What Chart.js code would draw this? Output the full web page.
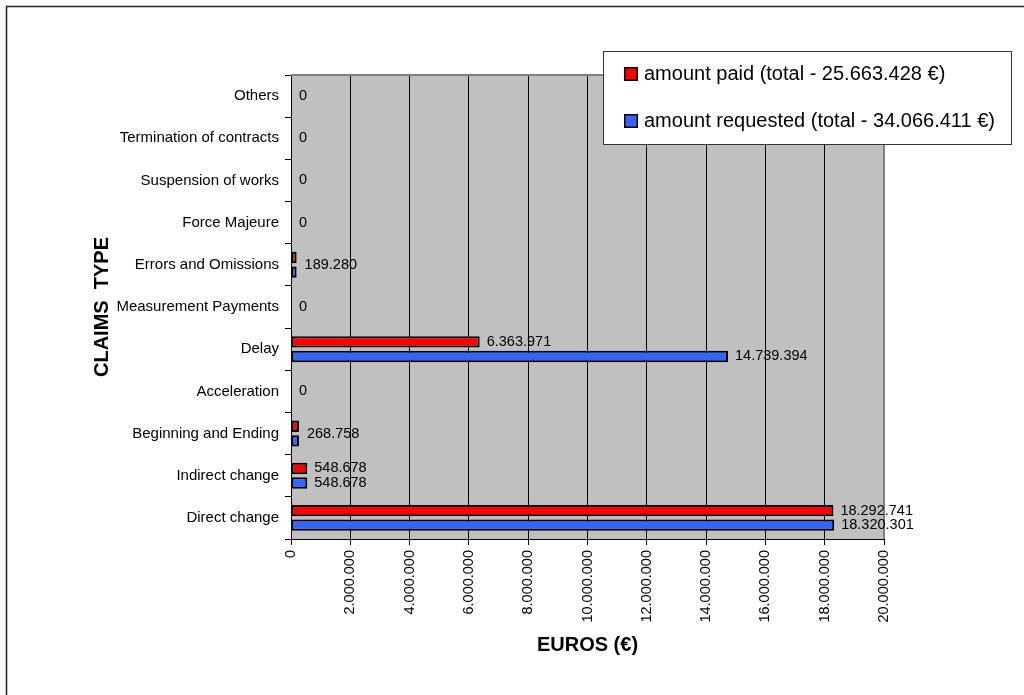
<!DOCTYPE html>
<html lang="en">
<head>
<meta charset="UTF-8">
<title>Claims by type</title>
<style>
  html, body { margin: 0; padding: 0; background: #fff; }
  #wrap { width: 1024px; height: 695px; }
</style>
</head>
<body>
<div id="wrap"><canvas id="claimsChart" width="1024" height="695"></canvas></div>
<script src="https://cdn.jsdelivr.net/npm/chart.js"></script>
<script>
// claim types, listed top to bottom
const categories = [
  'Others', 'Termination of contracts', 'Suspension of works', 'Force Majeure',
  'Errors and Omissions', 'Measurement Payments', 'Delay', 'Acceleration',
  'Beginning and Ending', 'Indirect change', 'Direct change'
];
const amountPaid      = [0, 0, 0, 0, 189280, 0, 6363971, 0, 268758, 548678, 18292741];
const amountRequested = [0, 0, 0, 0, 189280, 0, 14739394, 0, 268758, 548678, 18320301];
// one value label per category instead of one per bar
const sharedLabel = [true, true, true, true, true, true, false, true, true, false, false];

const FONT = '"Liberation Sans", Arial, sans-serif';
const RED = '#ff0000';
const BLUE = '#3366ff';

function fmt(n) {
  return String(Math.round(n)).replace(/\B(?=(\d{3})+(?!\d))/g, '.');
}
const total = arr => arr.reduce((a, b) => a + b, 0);

const paidLabel = 'amount paid (total - ' + fmt(total(amountPaid)) + ' €)';
const requestedLabel = 'amount requested (total - ' + fmt(total(amountRequested)) + ' €)';

Chart.defaults.font.family = FONT;
Chart.defaults.color = '#000';

// grey plot background, outer frame, value labels and the boxed legend
const framePlugin = {
  id: 'frame',
  beforeDraw(chart) {
    const { ctx, chartArea: a } = chart;
    ctx.save();
    ctx.strokeStyle = '#222';
    ctx.lineWidth = 1.5;
    ctx.beginPath();
    ctx.moveTo(6.5, 1000);
    ctx.lineTo(6.5, 6.5);
    ctx.lineTo(1100, 6.5);
    ctx.stroke();
    ctx.fillStyle = '#c0c0c0';
    ctx.fillRect(a.left, a.top, a.right - a.left, a.bottom - a.top);
    ctx.restore();
  },
  beforeDatasetsDraw(chart) {
    const { ctx, chartArea: a } = chart;
    ctx.save();
    ctx.strokeStyle = '#808080';
    ctx.lineWidth = 2;
    ctx.beginPath();
    ctx.moveTo(a.left, a.top);
    ctx.lineTo(a.right, a.top);
    ctx.lineTo(a.right, a.bottom);
    ctx.stroke();
    ctx.restore();
  },
  afterDatasetsDraw(chart) {
    const { ctx } = chart;
    const yScale = chart.scales.y;
    const m0 = chart.getDatasetMeta(0).data;
    const m1 = chart.getDatasetMeta(1).data;
    ctx.save();
    ctx.font = '14.5px ' + FONT;
    ctx.fillStyle = '#000';
    ctx.textAlign = 'left';
    ctx.textBaseline = 'middle';
    categories.forEach((c, i) => {
      if (sharedLabel[i]) {
        const x = Math.max(m0[i].x, m1[i].x) + 8;
        ctx.fillText(fmt(amountPaid[i]), x, yScale.getPixelForValue(i));
      } else {
        ctx.fillText(fmt(amountPaid[i]), m0[i].x + 7, m0[i].y);
        ctx.fillText(fmt(amountRequested[i]), m1[i].x + 7, m1[i].y);
      }
    });
    ctx.restore();
  },
  afterDraw(chart) {
    const { ctx } = chart;
    const box = { x: 603.5, y: 51.5, w: 408, h: 93 };
    ctx.save();
    ctx.fillStyle = '#fff';
    ctx.fillRect(box.x, box.y, box.w, box.h);
    ctx.strokeStyle = '#333';
    ctx.lineWidth = 1;
    ctx.strokeRect(box.x, box.y, box.w, box.h);
    ctx.font = '20px ' + FONT;
    ctx.textBaseline = 'middle';
    chart.data.datasets.forEach((ds, i) => {
      const cy = 74 + i * 47;
      ctx.fillStyle = ds.backgroundColor;
      ctx.fillRect(624, cy - 7, 14, 14);
      ctx.strokeStyle = '#000';
      ctx.lineWidth = 1.5;
      ctx.strokeRect(624.75, cy - 6.25, 12.5, 12.5);
      ctx.fillStyle = '#000';
      ctx.fillText(ds.label, 644, cy);
    });
    ctx.restore();
  }
};

new Chart(document.getElementById('claimsChart'), {
  type: 'bar',
  data: {
    labels: categories,
    datasets: [
      {
        label: paidLabel,
        data: amountPaid,
        backgroundColor: RED,
        borderColor: '#000',
        borderWidth: 2,
        borderSkipped: false
      },
      {
        label: requestedLabel,
        data: amountRequested,
        backgroundColor: BLUE,
        borderColor: '#000',
        borderWidth: 2,
        borderSkipped: false
      }
    ]
  },
  options: {
    indexAxis: 'y',
    responsive: false,
    animation: false,
    categoryPercentage: 0.69,
    barPercentage: 0.78,
    layout: { padding: { top: 75, right: 140, left: 0, bottom: 0 } },
    plugins: {
      legend: { display: false },
      tooltip: { enabled: false }
    },
    scales: {
      x: {
        min: 0,
        max: 20000000,
        ticks: {
          stepSize: 2000000,
          minRotation: 90,
          maxRotation: 90,
          padding: 5,
          color: '#000',
          font: { size: 14.5 },
          callback: v => fmt(v)
        },
        grid: { color: '#000', lineWidth: 1, tickLength: 6, tickColor: '#000' },
        border: { color: '#000', width: 1 },
        title: {
          display: true,
          text: 'EUROS (€)',
          color: '#000',
          font: { size: 20, weight: 'bold' },
          padding: { top: 0, bottom: 38 }
        },
        afterFit(scale) { scale.height = 156; }
      },
      y: {
        ticks: {
          autoSkip: false,
          padding: 6,
          color: '#000',
          font: { size: 15 }
        },
        grid: { drawOnChartArea: false, tickLength: 6, tickColor: '#000' },
        border: { color: '#000', width: 1 },
        title: {
          display: true,
          text: 'CLAIMS  TYPE',
          color: '#000',
          font: { size: 20, weight: 'bold' },
          padding: { top: 90, bottom: 0 }
        },
        afterFit(scale) { scale.width = 291; }
      }
    }
  },
  plugins: [framePlugin]
});
</script>
</body>
</html>
